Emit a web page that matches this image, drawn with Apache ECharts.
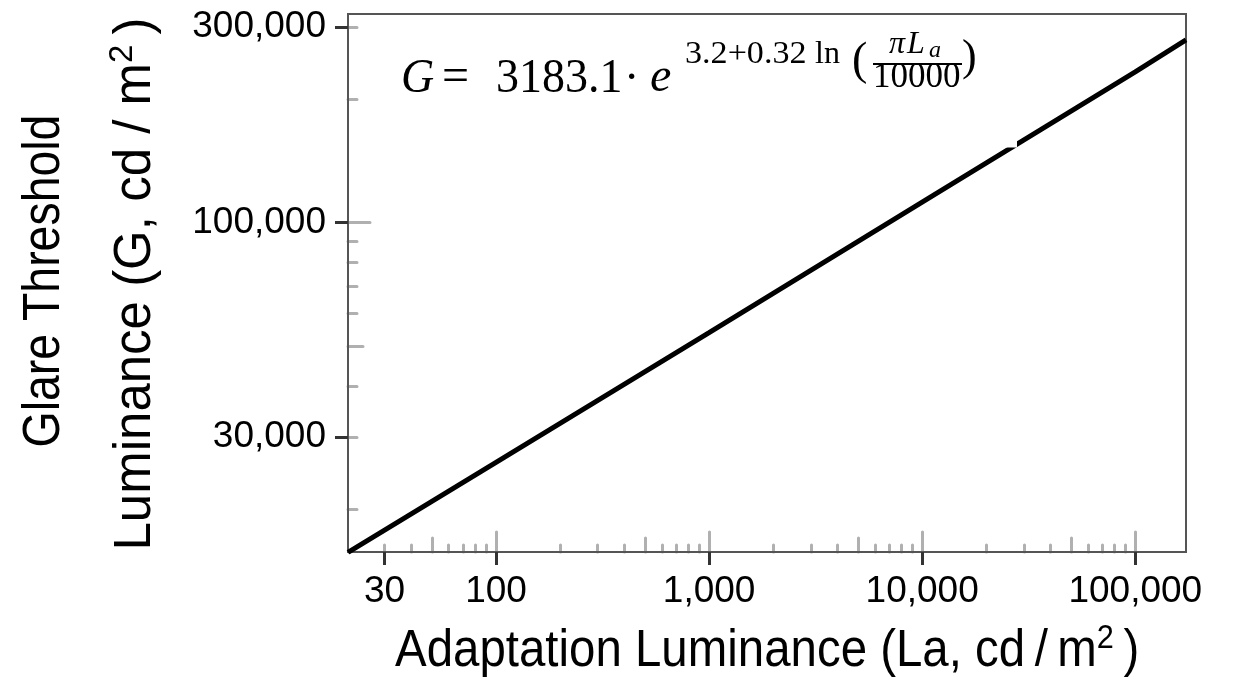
<!DOCTYPE html>
<html><head><meta charset="utf-8">
<script src="https://cdn.jsdelivr.net/npm/echarts@6/dist/echarts.min.js"></script>
<style>html,body{margin:0;padding:0;background:#fff}#c{width:1235px;height:686px}</style>
</head><body><div id="c"></div>
<script>
// ---- data ----
const adaptationLum = [20.2, 100, 1000, 10000, 100000, 173000];
const glareLum = [15700, 26040, 53950, 112200, 233200, 279000];
const xMajorTicks = [30, 100, 1000, 10000, 100000];
const xMajorLabels = ['30', '100', '1,000', '10,000', '100,000'];
const yMajorTicks = [30000, 100000, 300000];
const yMajorLabels = ['30,000', '100,000', '300,000'];
const xRange = [20.2, 173000];
const yRange = [15740, 322700];

const L = Math.log10;
function minorSet(range, ks) {
  const out = [];
  for (let e = 0; e <= 6; e++) for (const k of ks) {
    const v = k * Math.pow(10, e);
    if (v > range[0] && v < range[1]) out.push(L(v));
  }
  return out;
}
const shortK = [2, 3, 4, 6, 7, 8, 9], medK = [5], longK = [1];
function lab(ticks, labels) {
  return v => { const i = ticks.findIndex(t => Math.abs(L(t) - v) < 1e-6); return i >= 0 ? labels[i] : ''; };
}
const SANS = '"Liberation Sans", Arial, sans-serif';
const SERIF = '"Liberation Serif", "Times New Roman", serif';
const minorColor = '#b0b0b0';

function innerAxis(range, ks, len, isX) {
  return {
    type: 'value', position: isX ? 'bottom' : 'left',
    min: L(range[0]), max: L(range[1]),
    axisLine: { show: false, onZero: false },
    axisTick: { show: true, inside: true, length: len, customValues: minorSet(range, ks),
      lineStyle: { color: minorColor, width: 3, cap: 'round' } },
    axisLabel: { show: false }, splitLine: { show: false }
  };
}
function mainAxis(range, ticks, labels, isX) {
  return {
    type: 'value', position: isX ? 'bottom' : 'left',
    min: L(range[0]), max: L(range[1]),
    axisLine: { show: true, onZero: false, lineStyle: { color: '#555', width: 2 } },
    axisTick: { show: true, inside: false, length: 13, customValues: ticks.map(L),
      lineStyle: { color: '#333', width: 3 } },
    axisLabel: { show: true, customValues: ticks.map(L), formatter: lab(ticks, labels),
      fontFamily: SANS, fontSize: 37, color: '#000', margin: isX ? 21 : 22 },
    splitLine: { show: false }, z: 5
  };
}

function t(text, x, baseline, size, italic, extra) {
  return Object.assign({
    type: 'text', x: x, y: baseline - 0.3375 * size, z: 50,
    style: { text: text, font: (italic ? 'italic ' : '') + size + 'px ' + SERIF, fill: '#000',
      align: 'left', verticalAlign: 'middle' }
  }, extra || {});
}
const richTitle = {
  a: { fontFamily: SANS, fontSize: 51, lineHeight: 60, fill: '#000' },
  s: { fontFamily: SANS, fontSize: 33, lineHeight: 30, verticalAlign: 'top', fill: '#000' }
};

const chart = echarts.init(document.getElementById('c'), null, { renderer: 'canvas' });
chart.setOption({
  animation: false,
  grid: { left: 348, top: 14, width: 838, height: 538, show: true, borderColor: '#555', borderWidth: 2, backgroundColor: 'transparent' },
  xAxis: [
    mainAxis(xRange, xMajorTicks, xMajorLabels, true),
    innerAxis(xRange, shortK, 7, true),
    innerAxis(xRange, medK, 14, true),
    innerAxis(xRange, longK, 20, true)
  ],
  yAxis: [
    mainAxis(yRange, yMajorTicks, yMajorLabels, false),
    innerAxis(yRange, shortK, 9, false),
    innerAxis(yRange, medK, 15, false),
    innerAxis(yRange, longK, 22, false)
  ],
  series: [{
    type: 'line', xAxisIndex: 0, yAxisIndex: 0, symbol: 'none', clip: true, z: 10,
    lineStyle: { color: '#000', width: 5 },
    data: adaptationLum.map((v, i) => [L(v), L(glareLum[i])])
  }],
  graphic: [
    // small white gap in the curve
    { type: 'rect', z: 100, shape: { x: 1001, y: 126, width: 16, height: 21.5 }, style: { fill: '#fff' } },
    // formula
    t('G', 401, 95, 46, true, { scaleY: 1.06 }),
    t('=', 442, 95, 48, false),
    t('3183.1', 496, 95, 46, false, { scaleY: 1.06 }),
    t('\u00b7', 624, 95, 46, false),
    t('e', 650, 95, 48, true),
    t('3.2+0.32', 685, 65, 31, false, { scaleX: 1.1 }),
    t('ln', 815, 65, 32, false),
    { type: 'text', x: 852, y: 62, z: 50, style: { text: '(', font: '46px ' + SERIF, fill: '#000', align: 'left', verticalAlign: 'middle' } },
    t('\u03c0', 889, 55, 32, true),
    t('L', 907, 55, 32, true),
    t('a', 929, 59, 24, true),
    { type: 'line', z: 50, shape: { x1: 873, y1: 64, x2: 962, y2: 64 }, style: { stroke: '#000', lineWidth: 2 } },
    t('10000', 873, 90, 35, false),
    { type: 'text', x: 962, y: 58, z: 50, style: { text: ')', font: '44px ' + SERIF, fill: '#000', align: 'left', verticalAlign: 'middle' } },
    // axis titles
    { type: 'text', x: 395, y: 652, scaleX: 0.93, z: 50,
      style: { text: '{a|Adaptation Luminance (La, cd\u2009/\u2009m}{s|2}{a|\u2009)}', align: 'left', verticalAlign: 'middle', rich: richTitle } },
    { type: 'text', x: 45, y: 281, rotation: Math.PI / 2, scaleX: 0.91, z: 50,
      style: { text: 'Glare Threshold', font: '51px ' + SANS, fill: '#000', align: 'center', verticalAlign: 'middle' } },
    { type: 'text', x: 136, y: 284, rotation: Math.PI / 2, scaleX: 1.0, z: 50,
      style: { text: '{a|Luminance (G, cd / m}{s|2}{a|\u2009)}', align: 'center', verticalAlign: 'middle', rich: richTitle } }
  ]
});
</script></body></html>
